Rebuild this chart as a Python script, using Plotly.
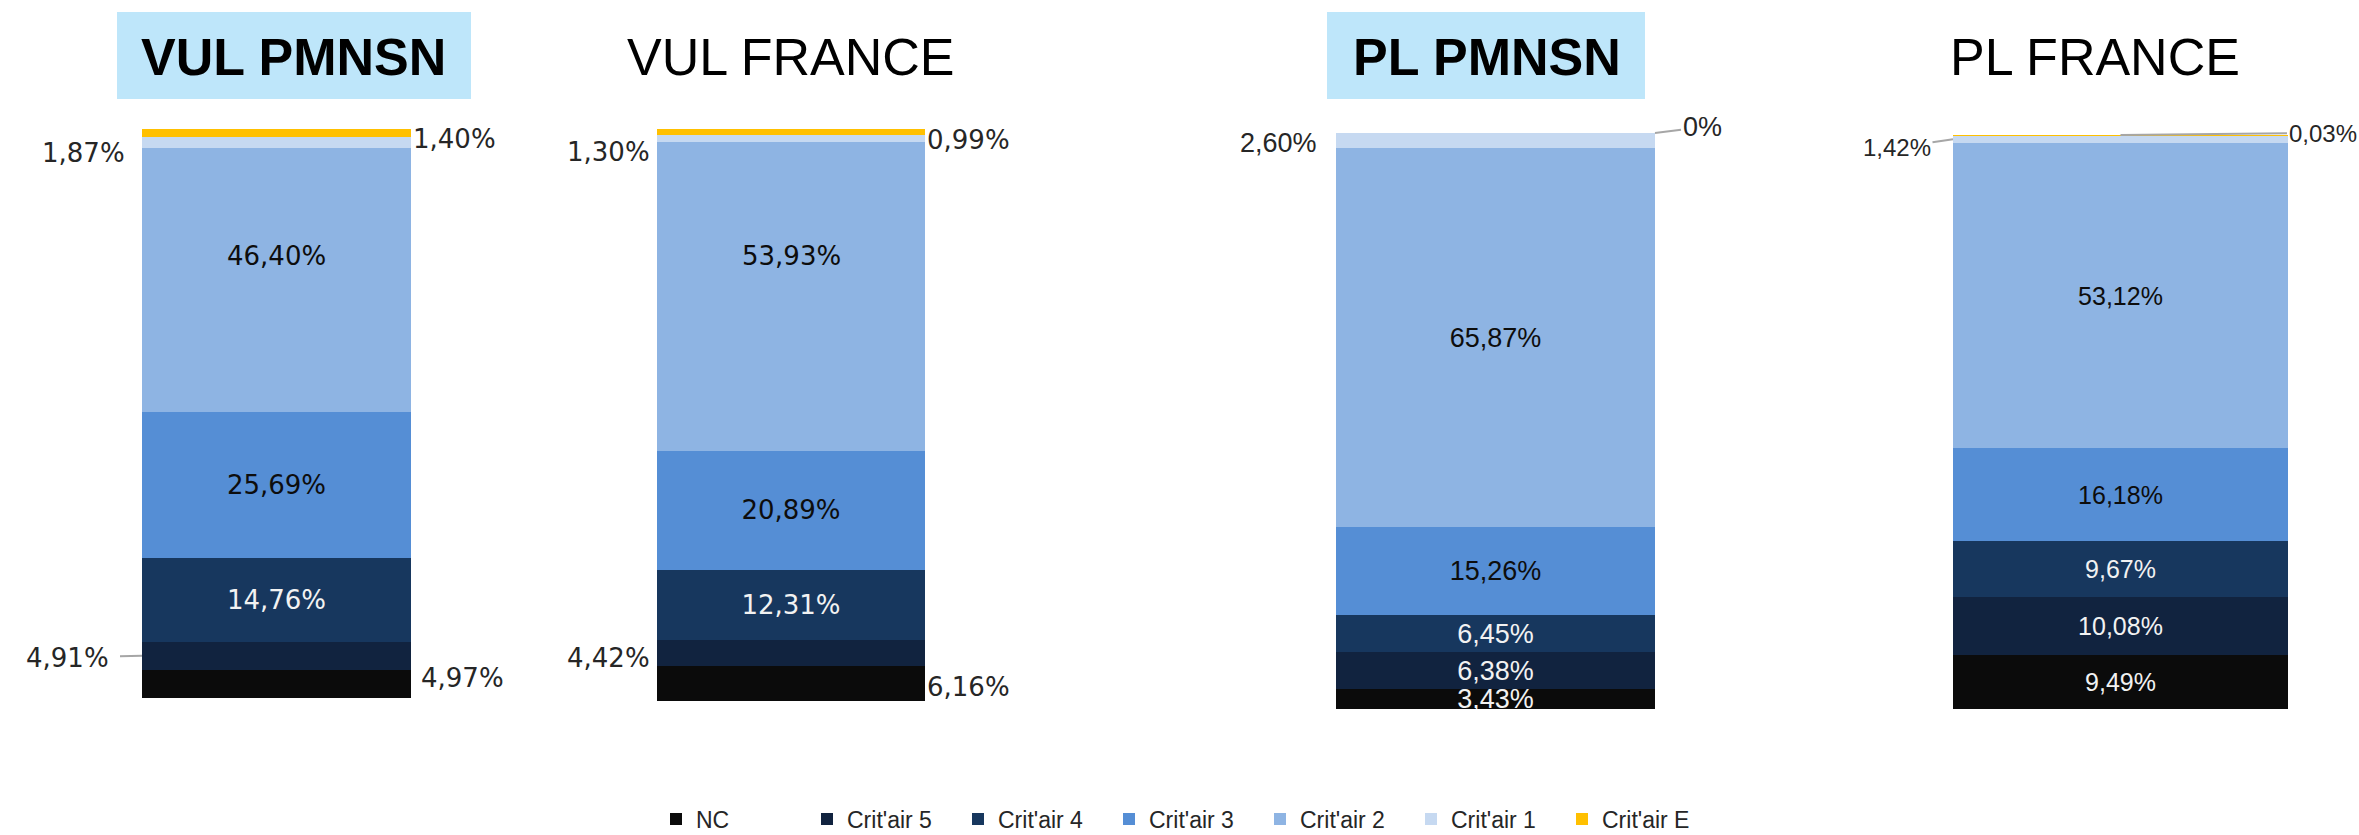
import plotly.graph_objects as go

W, H = 2359, 835

# ---- data -------------------------------------------------------------
categories = ["NC", "Crit'air 5", "Crit'air 4", "Crit'air 3",
              "Crit'air 2", "Crit'air 1", "Crit'air E"]
vul_pmnsn = [4.97, 4.91, 14.76, 25.69, 46.40, 1.87, 1.40]
vul_france = [6.16, 4.42, 12.31, 20.89, 53.93, 1.30, 0.99]
pl_pmnsn = [3.43, 6.38, 6.45, 15.26, 65.87, 2.60, 0.00]
pl_france = [9.49, 10.08, 9.67, 16.18, 53.12, 1.42, 0.03]
panel_titles = ["VUL PMNSN", "VUL FRANCE", "PL PMNSN", "PL FRANCE"]

# ---- styling ----------------------------------------------------------
colors = ["#0B0B0B", "#11233F", "#17375E", "#558ED5",
          "#8EB4E3", "#C6D9F1", "#FFC000"]
text_on = ["#F2F2F2", "#F2F2F2", "#F2F2F2", "#0D0D0D", "#0D0D0D", "#0D0D0D", "#0D0D0D"]
LEADER = "#A6A6A6"
OUT_COLOR = "#262626"

# pixel boxes of each stacked bar, title placement and label fonts
panels = [
    dict(values=vul_pmnsn, bx=(142, 411), by=(129, 698), tx=293, boxed=True,
         box=(117, 471), font="DejaVu Sans", size=26, osize=26, inside=[2, 3],
         shifted={4: 24},
         outside={0: ("right", 8, 6), 1: ("lead", -75, 2, -0.5, 10),
                  5: ("left", -15, -11), 6: ("right", 0, -6)}),
    dict(values=vul_france, bx=(657, 925), by=(129, 701), tx=790, boxed=False,
         font="DejaVu Sans", size=26, osize=26, inside=[2, 3],
         shifted={4: 40},
         outside={0: ("right", 0, -4), 1: ("left", -5, -5),
                  5: ("left", -5, -14), 6: ("right", 0, -8)}),
    dict(values=pl_pmnsn, bx=(1336, 1655), by=(133, 709), tx=1487, boxed=True,
         box=(1327, 1645), font="Liberation Sans", size=27, osize=27,
         inside=[0, 1, 2, 3, 4], shifted={},
         outside={5: ("left", -17, -3), 6: ("leadtop", 47, -6, 0.5, 0)}),
    dict(values=pl_france, bx=(1953, 2288), by=(135, 709), tx=2095, boxed=False,
         font="Liberation Sans", size=25, osize=24, inside=[0, 1, 2, 3, 4], shifted={},
         outside={5: ("lead", -56, 8, -0.5, 0), 6: ("leadtop", 202, -2, 0.0, 0)}),
]


def fmt(v):
    if v == 0:
        return "0%"
    return f"{v:.2f}".replace(".", ",") + "%"


fig = go.Figure()
annotations = []
shapes = []
layout_axes = {}

for p_i, p in enumerate(panels):
    sfx = "" if p_i == 0 else str(p_i + 1)
    xa, ya = "x" + sfx, "y" + sfx
    vals = p["values"]
    total = sum(vals)

    layout_axes["xaxis" + sfx] = dict(
        domain=[p["bx"][0] / W, p["bx"][1] / W], range=[-0.5, 0.5],
        visible=False, fixedrange=True, anchor=ya)
    layout_axes["yaxis" + sfx] = dict(
        domain=[1 - p["by"][1] / H, 1 - p["by"][0] / H], range=[0, total],
        visible=False, fixedrange=True, anchor=xa)

    cum = 0.0
    mids, tops = [], []
    for v in vals:
        mids.append(cum + v / 2)
        cum += v
        tops.append(cum)

    for c_i, cat in enumerate(categories):
        txt = fmt(vals[c_i]) if c_i in p["inside"] else ""
        fig.add_trace(go.Bar(
            x=[0], y=[vals[c_i]], width=[1], name=cat,
            marker=dict(color=colors[c_i], line=dict(width=0)),
            text=[txt], textposition="inside", insidetextanchor="middle",
            textangle=0, constraintext="none", cliponaxis=True,
            textfont=dict(family=p["font"], size=p["size"], color=text_on[c_i]),
            xaxis=xa, yaxis=ya, legendgroup=cat, showlegend=(p_i == 0),
            hoverinfo="skip"))

    # value labels moved off-centre inside their segment
    for c_i, dy in p["shifted"].items():
        annotations.append(dict(
            x=0, y=mids[c_i], xref=xa, yref=ya, text=fmt(vals[c_i]),
            showarrow=False, yshift=dy,
            font=dict(family=p["font"], size=p["size"], color=text_on[c_i])))

    # labels placed beside the bar
    for c_i, spec in p["outside"].items():
        font = dict(family=p["font"], size=p["osize"], color=OUT_COLOR)
        kind = spec[0]
        if kind in ("left", "right"):
            annotations.append(dict(
                x=-0.5 if kind == "left" else 0.5, y=mids[c_i], xref=xa, yref=ya,
                text=fmt(vals[c_i]), showarrow=False,
                xanchor="right" if kind == "left" else "left",
                xshift=spec[1], yshift=spec[2], font=font))
        else:
            _, ax, ay, px, sso = spec
            yy = mids[c_i] if kind == "lead" else tops[c_i]
            annotations.append(dict(
                x=px, y=yy, xref=xa, yref=ya, text=fmt(vals[c_i]),
                showarrow=True, arrowhead=0, arrowwidth=2, arrowcolor=LEADER,
                ax=ax, ay=ay, axref="pixel", ayref="pixel",
                standoff=0, startstandoff=sso, font=font))

    # panel heading
    if p["boxed"]:
        shapes.append(dict(
            type="rect", xref="paper", yref="paper",
            x0=p["box"][0] / W, x1=p["box"][1] / W,
            y0=1 - 99 / H, y1=1 - 12 / H,
            fillcolor="#BEE6FA", line=dict(width=0), layer="below"))
    title_txt = panel_titles[p_i]
    if p["boxed"]:
        title_txt = "<b>" + title_txt + "</b>"
    annotations.append(dict(
        x=p["tx"] / W, y=1 - 57 / H, xref="paper", yref="paper",
        text=title_txt, showarrow=False, xanchor="center", yanchor="middle",
        font=dict(family="Liberation Sans, Arial, sans-serif", size=52,
                  color="#000000")))

fig.update_layout(
    width=W, height=H,
    margin=dict(l=0, r=0, t=0, b=0, autoexpand=False),
    paper_bgcolor="white", plot_bgcolor="white",
    barmode="stack",
    showlegend=True,
    legend=dict(
        orientation="h", x=656 / W, xanchor="left",
        y=1 - 819 / H, yanchor="middle",
        font=dict(family="Liberation Sans, sans-serif", size=23, color="#262626"),
        entrywidth=106, entrywidthmode="pixels",
        itemclick=False, itemdoubleclick=False,
        bgcolor="rgba(0,0,0,0)"),
    annotations=annotations,
    shapes=shapes,
    **layout_axes,
)

fig.write_html("out.html")
